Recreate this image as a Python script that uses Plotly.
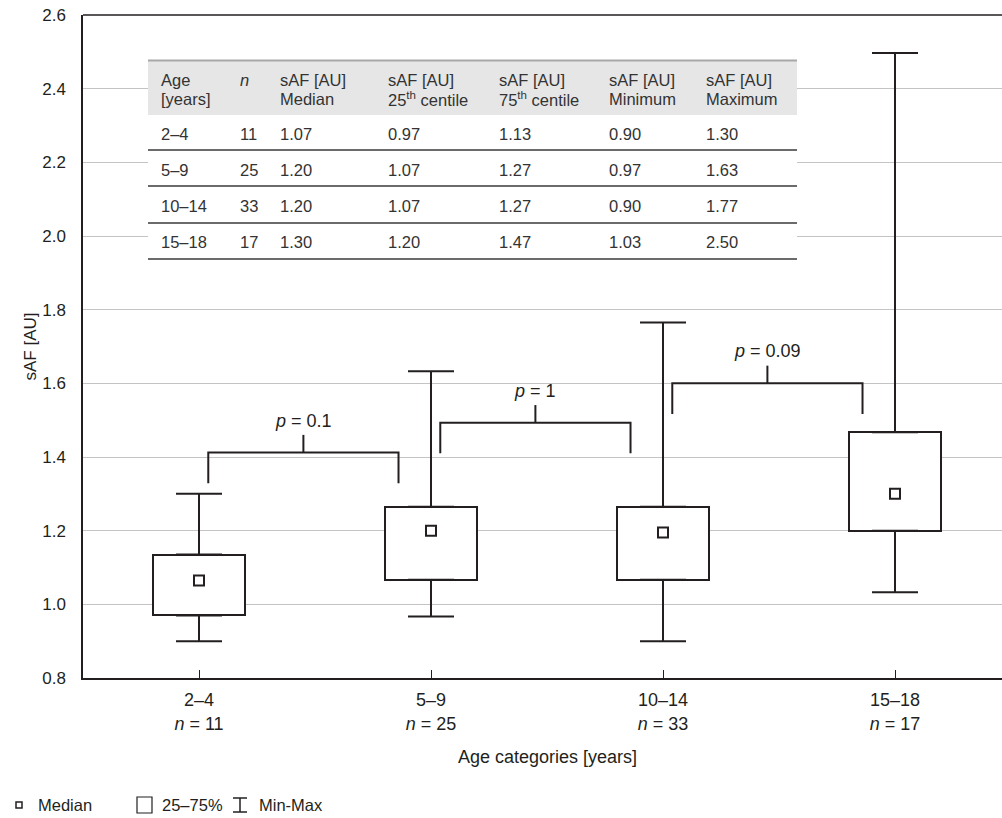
import plotly.graph_objects as go

# ---------------- data ----------------
categories = ["2–4", "5–9", "10–14", "15–18"]
n_values = [11, 25, 33, 17]
minimum = [0.90, 0.967, 0.90, 1.033]
q1 = [0.97, 1.067, 1.067, 1.20]
median = [1.065, 1.20, 1.195, 1.30]
q3 = [1.135, 1.265, 1.265, 1.467]
maximum = [1.30, 1.633, 1.765, 2.497]

# comparisons between neighbouring groups
bracket_start = [0, 1, 2]
bracket_height = [1.412, 1.493, 1.600]
p_labels = ["0.1", "1", "0.09"]

# summary table
table_header_1 = ["Age", "<i>n</i>", "sAF [AU]", "sAF [AU]", "sAF [AU]", "sAF [AU]", "sAF [AU]"]
table_header_2 = ["[years]", "", "Median", "25<sup>th</sup> centile", "75<sup>th</sup> centile", "Minimum", "Maximum"]
table_age = ["2–4", "5–9", "10–14", "15–18"]
table_n = ["11", "25", "33", "17"]
table_median = ["1.07", "1.20", "1.20", "1.30"]
table_p25 = ["0.97", "1.07", "1.07", "1.20"]
table_p75 = ["1.13", "1.27", "1.27", "1.47"]
table_min = ["0.90", "0.97", "0.90", "1.03"]
table_max = ["1.30", "1.63", "1.77", "2.50"]

y_ticks = [0.8, 1.0, 1.2, 1.4, 1.6, 1.8, 2.0, 2.2, 2.4, 2.6]

# ---------------- layout geometry ----------------
W, H = 1002, 818
L, R, T, B = 83, 0, 15, 140
PW, PH = W - L - R, H - T - B
INK = "#231f20"
FONT = "Liberation Sans, Arial, Helvetica, sans-serif"


def px(x):
    return (x - L) / PW


def py(y):
    return (H - B - y) / PH


xs = list(range(len(categories)))
fig = go.Figure()

# whiskers (upper and lower) as error bars with caps
fig.add_trace(go.Scatter(
    x=xs, y=q3, mode="markers", marker=dict(size=0.1, color="rgba(0,0,0,0)"),
    error_y=dict(type="data", symmetric=False,
                 array=[mx - b for mx, b in zip(maximum, q3)],
                 arrayminus=[0] * len(xs), color=INK, thickness=2, width=23),
    hoverinfo="skip", showlegend=False))
fig.add_trace(go.Scatter(
    x=xs, y=q1, mode="markers", marker=dict(size=0.1, color="rgba(0,0,0,0)"),
    error_y=dict(type="data", symmetric=False,
                 array=[0] * len(xs),
                 arrayminus=[b - mn for mn, b in zip(minimum, q1)], color=INK, thickness=2, width=23),
    hoverinfo="skip", showlegend=False))

# boxes 25-75 %
fig.add_trace(go.Bar(
    x=xs, y=[b - a for a, b in zip(q1, q3)], base=q1, width=0.4,
    marker=dict(color="white", line=dict(color=INK, width=2)),
    hoverinfo="skip", showlegend=False))

# median markers
fig.add_trace(go.Scatter(
    x=xs, y=median, mode="markers",
    marker=dict(symbol="square", size=10, color="white", line=dict(color=INK, width=2)),
    showlegend=False))

# brackets
bx, by = [], []
for s, h in zip(bracket_start, bracket_height):
    left, right, mid = s + 0.04, s + 0.86, s + 0.45
    bx += [left, left, right, right, None, mid, mid, None]
    by += [h - 0.083, h, h, h - 0.083, None, h, h + 0.048, None]
fig.add_trace(go.Scatter(x=bx, y=by, mode="lines", line=dict(color=INK, width=2),
                         hoverinfo="skip", showlegend=False))

annotations = []
for s, h, p in zip(bracket_start, bracket_height, p_labels):
    annotations.append(dict(x=s + 0.45, y=h + 0.087, xref="x", yref="y",
                            text=f"<i>p</i> = {p}", showarrow=False,
                            font=dict(size=18, color=INK, family=FONT),
                            xanchor="center", yanchor="middle"))

# x-axis title and y-axis title
annotations.append(dict(x=1.5, y=py(757), xref="x", yref="paper", text="Age categories [years]",
                        showarrow=False, font=dict(size=18, color=INK, family=FONT),
                        xanchor="center", yanchor="middle"))
annotations.append(dict(x=px(30), y=(py(15) + py(678)) / 2, xref="paper", yref="paper", text="sAF [AU]",
                        textangle=-90, showarrow=False, font=dict(size=17, color=INK, family=FONT),
                        xanchor="center", yanchor="middle"))

shapes = []
# top frame line
shapes.append(dict(type="line", xref="paper", yref="paper", x0=0, x1=1, y0=1, y1=1,
                   line=dict(color=INK, width=1.5), layer="above"))
# ---------------- summary table ----------------
tab_left, tab_right = 148, 797
shapes.append(dict(type="rect", xref="paper", yref="paper", x0=px(tab_left), x1=px(tab_right),
                   y0=py(262), y1=py(60), fillcolor="white", line=dict(width=0), layer="above"))
shapes.append(dict(type="rect", xref="paper", yref="paper", x0=px(tab_left), x1=px(tab_right),
                   y0=py(115), y1=py(60), fillcolor="#e6e6e6", line=dict(width=0), layer="above"))
shapes.append(dict(type="line", xref="paper", yref="paper", x0=px(tab_left), x1=px(tab_right),
                   y0=py(60.5), y1=py(60.5), line=dict(color="#a8a8a8", width=2), layer="above"))
for yl in [150, 186, 223, 259]:
    shapes.append(dict(type="line", xref="paper", yref="paper", x0=px(tab_left), x1=px(tab_right),
                       y0=py(yl), y1=py(yl), line=dict(color="#3a3a3a", width=1.5), layer="above"))

col_x = [159, 238, 278, 386, 497, 607, 704]
columns = [table_age, table_n, table_median, table_p25, table_p75, table_min, table_max]
row_y = [134, 170, 206, 242]
tfont = dict(size=16.5, color="#333333", family=FONT)
for cx, h1, h2, col in zip(col_x, table_header_1, table_header_2, columns):
    annotations.append(dict(x=px(cx), y=py(80), xref="paper", yref="paper", text=h1, showarrow=False,
                            font=tfont, xanchor="left", yanchor="middle"))
    if h2:
        annotations.append(dict(x=px(cx), y=py(99), xref="paper", yref="paper", text=h2, showarrow=False,
                                font=tfont, xanchor="left", yanchor="middle"))
    for ry, v in zip(row_y, col):
        annotations.append(dict(x=px(cx), y=py(ry), xref="paper", yref="paper", text=v, showarrow=False,
                                font=tfont, xanchor="left", yanchor="middle"))

# ---------------- bottom key ----------------
ky = 805
shapes.append(dict(type="rect", xref="paper", yref="paper", x0=px(16), x1=px(22), y0=py(808), y1=py(802),
                   line=dict(color=INK, width=1.5), fillcolor="white"))
shapes.append(dict(type="rect", xref="paper", yref="paper", x0=px(137), x1=px(152), y0=py(813), y1=py(797),
                   line=dict(color=INK, width=1.2), fillcolor="white"))
shapes.append(dict(type="line", xref="paper", yref="paper", x0=px(240), x1=px(240), y0=py(812), y1=py(798),
                   line=dict(color=INK, width=1.5)))
shapes.append(dict(type="line", xref="paper", yref="paper", x0=px(233), x1=px(247), y0=py(798), y1=py(798),
                   line=dict(color=INK, width=1.5)))
shapes.append(dict(type="line", xref="paper", yref="paper", x0=px(233), x1=px(247), y0=py(812), y1=py(812),
                   line=dict(color=INK, width=1.5)))
kfont = dict(size=16.5, color=INK, family=FONT)
for kx, txt in [(36, "Median"), (160, "25–75%"), (257, "Min-Max")]:
    annotations.append(dict(x=px(kx), y=py(ky), xref="paper", yref="paper", text=txt, showarrow=False,
                            font=kfont, xanchor="left", yanchor="middle"))

fig.update_layout(
    width=W, height=H,
    margin=dict(l=L, r=R, t=T, b=B, pad=0),
    paper_bgcolor="white", plot_bgcolor="white",
    font=dict(family=FONT, color=INK, size=17),
    showlegend=False,
    bargap=0,
    annotations=annotations,
    shapes=shapes,
    xaxis=dict(range=[-0.5, -0.5 + PW / 232.0], tickvals=xs,
               ticktext=[f"{c}<br><i>n</i> = {n}" for c, n in zip(categories, n_values)],
               ticks="inside", ticklen=8, tickwidth=1.2, tickcolor=INK,
               showline=True, linecolor=INK, linewidth=1.5, mirror=False,
               showgrid=False, zeroline=False, fixedrange=True,
               tickfont=dict(size=18, color=INK, family=FONT), ticklabelstandoff=5),
    yaxis=dict(range=[0.8, 2.6], tickvals=y_ticks, ticktext=[f"{v:.1f}" for v in y_ticks],
               ticks="", showline=True, linecolor=INK, linewidth=1.5, mirror=False,
               showgrid=True, gridcolor="#c4c4c4", gridwidth=1, zeroline=False, fixedrange=True,
               tickfont=dict(size=17, color=INK, family=FONT), ticklabelstandoff=12),
)

fig.write_html("out.html", config={"displayModeBar": False},
               post_script="document.body.style.margin='0px';document.body.style.overflow='hidden';")
